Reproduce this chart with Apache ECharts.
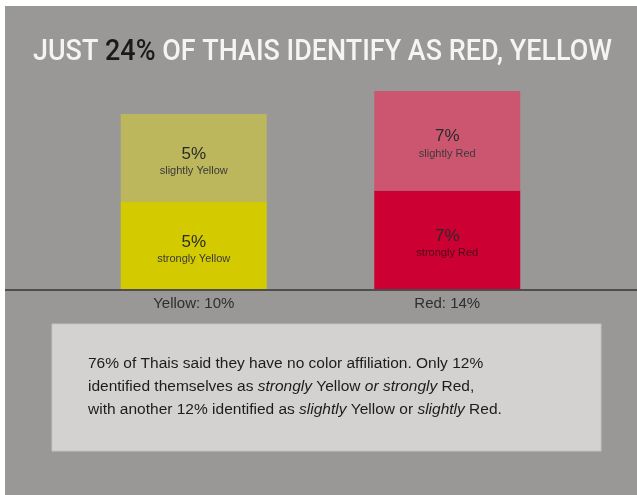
<!DOCTYPE html>
<html>
<head>
<meta charset="utf-8">
<script src="https://cdn.jsdelivr.net/npm/echarts@6/dist/echarts.min.js"></script>
<style>
html,body{margin:0;padding:0;background:#fff;}
#chart{width:637px;height:495px;}
</style>
</head>
<body>
<div id="chart"></div>
<script>
// ---- data ----
var categories = ['Yellow: 10%', 'Red: 14%'];
var strongly = [5, 7];
var slightly = [5, 7];
var strongLabels = ['strongly Yellow', 'strongly Red'];
var slightLabels = ['slightly Yellow', 'slightly Red'];
var titleParts = ['JUST ', '24%', ' OF THAIS IDENTIFY AS RED, YELLOW'];
var noteLines = [
  '76% of Thais said they have no color affiliation. Only 12%',
  'identified themselves as {i|strongly} Yellow {i|or strongly} Red,',
  'with another 12% identified as {i|slightly} Yellow or {i|slightly} Red.'
];

var colStrong = ['#d3cb00', '#cc0032'];
var colSlight = ['#bcb65c', '#cc5670'];
var labelInk = [['#2a2a2a', '#3a3a3a'], ['#2a2a2a', '#3a3a3a']];

function only(arr, idx) {
  return arr.map(function (v, i) { return i === idx ? v : '-'; });
}
function labelFor(texts, idx, subColor) {
  return {
    show: true,
    position: 'inside',
    offset: [0, 3],
    formatter: function (p) { return '{a|' + p.value + '%}\n{b|' + texts[idx] + '}'; },
    rich: {
      a: { fontSize: 17, color: '#2a2a2a', fontFamily: 'Liberation Sans', lineHeight: 20 },
      b: { fontSize: 11, color: subColor, fontFamily: 'Liberation Sans', lineHeight: 14 }
    }
  };
}

var series = [];
[0, 1].forEach(function (idx) {
  series.push({
    type: 'bar', stack: 's' + idx, yAxisIndex: idx,
    data: only(strongly, idx), barWidth: 146, barGap: '-100%',
    itemStyle: { color: colStrong[idx] },
    label: labelFor(strongLabels, idx, idx === 1 ? '#4a0a18' : '#3a3a3a'), silent: true
  });
  series.push({
    type: 'bar', stack: 's' + idx, yAxisIndex: idx,
    data: only(slightly, idx), barWidth: 146, barGap: '-100%',
    itemStyle: { color: colSlight[idx] },
    label: labelFor(slightLabels, idx, '#3a3a3a'), silent: true
  });
});

// measure title to condense it to the reference width
var titleFont = '500 29px Roboto';
var cv = document.createElement('canvas').getContext('2d');
cv.font = titleFont;
var titleW = cv.measureText(titleParts.join('')).width;
var titleScale = 579 / titleW;

var chart = echarts.init(document.getElementById('chart'), null, { renderer: 'canvas' });
chart.setOption({
  backgroundColor: '#ffffff',
  animation: false,
  grid: { left: 67, width: 507, top: 91, bottom: 205, containLabel: false },
  xAxis: {
    type: 'category', data: categories,
    axisLine: { show: false }, axisTick: { show: false },
    axisLabel: { margin: 6, fontSize: 15, color: '#2e2e2e', fontFamily: 'Liberation Sans' }
  },
  yAxis: [
    { type: 'value', min: 0, max: 11.3, show: false, splitLine: { show: false } },
    { type: 'value', min: 0, max: 14, show: false, splitLine: { show: false } }
  ],
  graphic: [
    { type: 'rect', z: -10, shape: { x: 5, y: 6, width: 632, height: 489 }, style: { fill: '#999897' } },
    { type: 'line', z: 10, shape: { x1: 5, y1: 290, x2: 637, y2: 290 }, style: { stroke: '#4e4e4e', lineWidth: 2 } },
    {
      type: 'text', z: 5, x: 322.5, y: 53, scaleX: titleScale,
      style: {
        text: '{w|' + titleParts[0] + '}{k|' + titleParts[1] + '}{w|' + titleParts[2] + '}',
        x: 0, y: 0, align: 'center', verticalAlign: 'middle',
        rich: {
          w: { fill: '#f4f4f4', fontSize: 29, fontFamily: 'Roboto', fontWeight: 500 },
          k: { fill: '#1a1a1a', fontSize: 29, fontFamily: 'Roboto', fontWeight: 500 }
        }
      }
    },
    { type: 'rect', z: 1, shape: { x: 52, y: 324, width: 549, height: 127 }, style: { fill: '#d3d2d0', stroke: '#c4c3c1', lineWidth: 1 } },
    {
      type: 'text', z: 2, left: 88, top: 352,
      style: {
        text: noteLines.join('\n'),
        fill: '#1c1c1c',
        font: '15.5px "Liberation Sans"',
        lineHeight: 23,
        rich: {
          i: { fontStyle: 'italic', fontSize: 15.5, fontFamily: 'Liberation Sans', fill: '#1c1c1c', lineHeight: 23 }
        }
      }
    }
  ],
  series: series
});
</script>
</body>
</html>
